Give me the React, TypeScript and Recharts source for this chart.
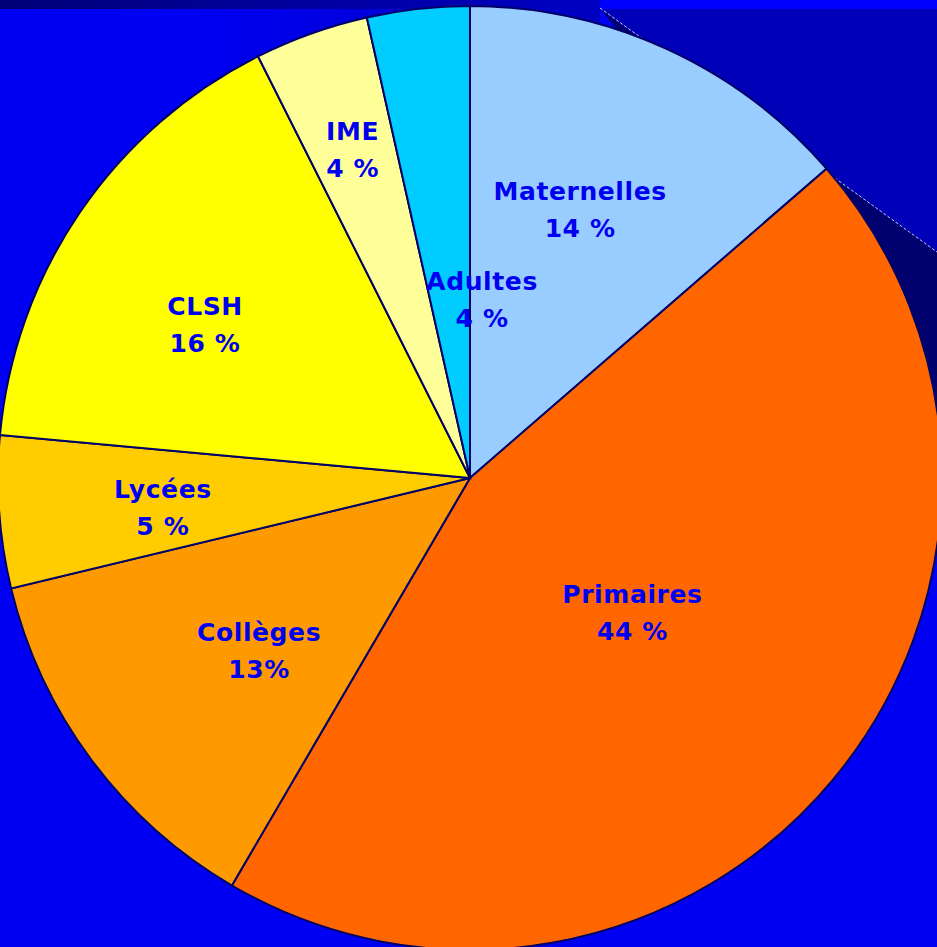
import React from "react";
import { PieChart, Pie, Cell } from "recharts";

// slice shares (clockwise from 12 o'clock)
const categories = ["Maternelles", "Primaires", "Collèges", "Lycées", "CLSH", "IME", "Adultes"];
const shares = [13.6, 44.7, 12.8, 5.2, 16.1, 3.9, 3.5];
const percentLabels = ["14 %", "44 %", "13%", "5 %", "16 %", "4 %", "4 %"];

const sliceColors = ["#99ccff", "#ff6600", "#ff9900", "#ffcc00", "#ffff00", "#ffff99", "#00ccff"];

// where each label sits: fraction of the radius, and nudge (deg, clockwise) from the slice middle
const labelRadius = [0.614, 0.447, 0.578, 0.654, 0.648, 0.739, 0.378];
const labelNudge = [-2.2, 0, -2.75, -1.5, -4.3, 0, 10.2];

const W = 937;
const H = 947;
const RAD = Math.PI / 180;
const TEXT_COLOR = "#0000f0";

const data = categories.map((name, i) => ({ name, value: shares[i], pct: percentLabels[i] }));

function renderLabel(props: any) {
  const { cx, cy, midAngle, outerRadius, index } = props;
  const r = outerRadius * labelRadius[index];
  const a = (midAngle - labelNudge[index]) * RAD;
  const x = cx + r * Math.cos(-a);
  const y = cy + r * Math.sin(-a);
  const style = {
    fontFamily: "'DejaVu Sans', sans-serif",
    fontWeight: 700,
    fontSize: 25,
    letterSpacing: 0.6,
  };
  return (
    <g key={`lbl-${index}`}>
      <text x={x} y={y - 18.5} textAnchor="middle" dominantBaseline="central" fill={TEXT_COLOR} style={style}>
        {data[index].name}
      </text>
      <text x={x} y={y + 18.5} textAnchor="middle" dominantBaseline="central" fill={TEXT_COLOR} style={style}>
        {data[index].pct}
      </text>
    </g>
  );
}

export default function App() {
  return (
    <div style={{ position: "absolute", left: 0, top: 0, width: W, height: H, background: "#0000f2", overflow: "hidden" }}>
      {/* backdrop shading behind the pie */}
      <svg width={W} height={H} style={{ position: "absolute", left: 0, top: 0 }}>
        <defs>
          <linearGradient id="topStrip" x1="0" y1="0" x2="1" y2="0">
            <stop offset="0%" stopColor="#000078" />
            <stop offset="100%" stopColor="#0000c4" />
          </linearGradient>
          <linearGradient id="upperLeft" x1="0" y1="0" x2="1" y2="0">
            <stop offset="0%" stopColor="#0000f2" />
            <stop offset="100%" stopColor="#0000c0" />
          </linearGradient>
        </defs>
        <rect x={200} y={9} width={400} height={200} fill="url(#upperLeft)" />
        <rect x={0} y={0} width={600} height={9} fill="url(#topStrip)" />
        <rect x={600} y={0} width={337} height={9} fill="#0000ff" />
        <polygon points="600,9 937,9 937,252" fill="#0000b8" />
        <polygon points="600,9 937,252 937,520 760,200" fill="#00006e" />
        <line x1={600} y1={8} x2={937} y2={252} stroke="#ffffff" strokeWidth={1} strokeDasharray="3 2" opacity={0.8} />
      </svg>
      <div style={{ position: "absolute", left: 0, top: 0 }}>
        <PieChart width={W} height={H} margin={{ top: 0, right: 0, bottom: 0, left: 0 }}>
          <Pie
            data={data}
            dataKey="value"
            nameKey="name"
            cx={470}
            cy={478}
            innerRadius={0}
            outerRadius={472}
            startAngle={90}
            endAngle={-270}
            stroke="#000066"
            strokeWidth={2}
            label={renderLabel}
            labelLine={false}
            isAnimationActive={false}
          >
            {data.map((d, i) => (
              <Cell key={d.name} fill={sliceColors[i]} />
            ))}
          </Pie>
        </PieChart>
      </div>
    </div>
  );
}
